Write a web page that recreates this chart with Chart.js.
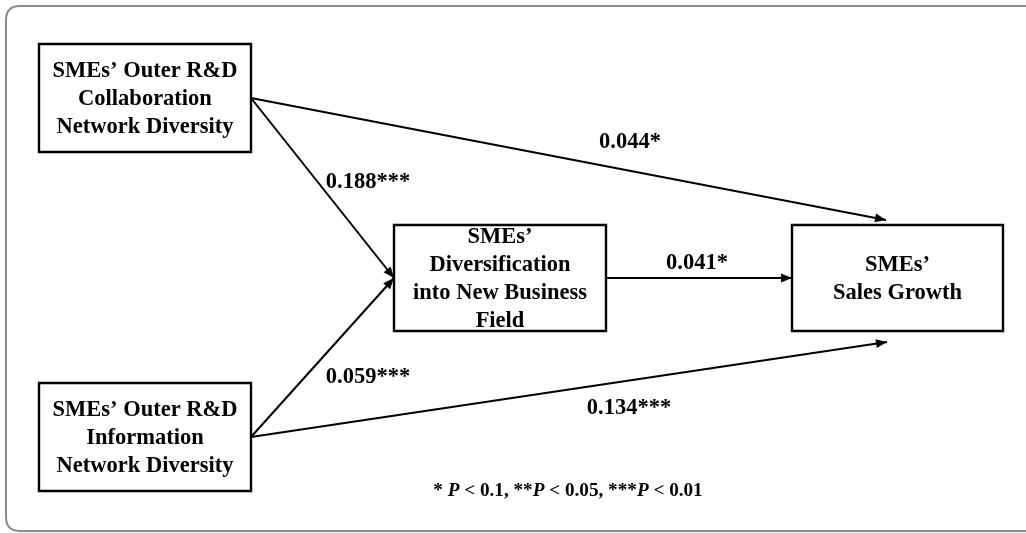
<!DOCTYPE html>
<html>
<head>
<meta charset="utf-8">
<script src="https://cdn.jsdelivr.net/npm/chart.js@4"></script>
<style>
html,body{margin:0;padding:0;background:#fff;}
#wrap{width:1026px;height:533px;position:relative;}
</style>
</head>
<body>
<div id="wrap"><canvas id="c" width="1026" height="533"></canvas></div>
<script>
// ---- Data ----
const nodeNames = ['collab', 'info', 'divers', 'sales'];
const nodeLabels = [
  ['SMEs\u2019 Outer R&D', 'Collaboration', 'Network Diversity'],
  ['SMEs\u2019 Outer R&D', 'Information', 'Network Diversity'],
  ['SMEs\u2019', 'Diversification', 'into New Business', 'Field'],
  ['SMEs\u2019', 'Sales Growth']
];
const pathFrom = [0, 1, 2, 0, 1];
const pathTo = [2, 2, 3, 3, 3];
const pathCoef = [0.188, 0.059, 0.041, 0.044, 0.134];
const pathStars = [3, 3, 1, 1, 3];
const footnoteStars = ['*', '**', '***'];
const footnoteP = ['0.1', '0.05', '0.01'];

// ---- Layout (pixel-unit scales) ----
const boxLeft = [39, 39, 394, 792];
const boxRight = [251, 251, 606, 1003];
const boxTop = [44, 383, 225, 225];
const boxBottom = [152, 491, 331, 331];
const pathStart = [[251, 98], [251, 437], [606, 278], [251, 98], [251, 437]];
const pathEnd = [[394, 278], [394, 278], [792, 278], [886, 220], [887, 342]];
const labelPos = [[368, 182], [368, 377], [697, 263], [630, 142], [629, 408]];

const SERIF = '"Liberation Serif", "Times New Roman", serif';

const datasets = [];
// boxes as closed polygons
nodeNames.forEach((n, i) => {
  datasets.push({
    label: 'box-' + n,
    type: 'line',
    data: [
      {x: boxLeft[i], y: boxTop[i]}, {x: boxRight[i], y: boxTop[i]},
      {x: boxRight[i], y: boxBottom[i]}, {x: boxLeft[i], y: boxBottom[i]},
      {x: boxLeft[i], y: boxTop[i]}, {x: boxRight[i], y: boxTop[i]}
    ],
    borderColor: '#000', borderWidth: 2.4, pointRadius: 0, tension: 0,
    borderJoinStyle: 'miter', borderCapStyle: 'butt',
    fill: false, isBox: true, nodeIndex: i
  });
});
// paths
pathCoef.forEach((c, i) => {
  datasets.push({
    label: 'path-' + i,
    type: 'line',
    data: [{x: pathStart[i][0], y: pathStart[i][1]}, {x: pathEnd[i][0], y: pathEnd[i][1]}],
    borderColor: '#000', borderWidth: 2, pointRadius: 0, tension: 0,
    fill: false, isPath: true, pathIndex: i
  });
});

const diagramPlugin = {
  id: 'diagram',
  beforeDraw(chart) {
    const ctx = chart.ctx;
    ctx.save();
    ctx.fillStyle = '#fff';
    ctx.fillRect(0, 0, chart.width, chart.height);
    // outer rounded frame
    const xs = chart.scales.x, ys = chart.scales.y;
    const l = xs.getPixelForValue(6), t = ys.getPixelForValue(6);
    const r = xs.getPixelForValue(1040), b = ys.getPixelForValue(531);
    const rad = 14;
    ctx.strokeStyle = '#8c8c8c';
    ctx.lineWidth = 2;
    ctx.beginPath();
    ctx.moveTo(l + rad, t);
    ctx.lineTo(r - rad, t);
    ctx.quadraticCurveTo(r, t, r, t + rad);
    ctx.lineTo(r, b - rad);
    ctx.quadraticCurveTo(r, b, r - rad, b);
    ctx.lineTo(l + rad, b);
    ctx.quadraticCurveTo(l, b, l, b - rad);
    ctx.lineTo(l, t + rad);
    ctx.quadraticCurveTo(l, t, l + rad, t);
    ctx.stroke();
    ctx.restore();
  },
  afterDatasetsDraw(chart) {
    const ctx = chart.ctx;
    const xs = chart.scales.x, ys = chart.scales.y;
    ctx.save();
    // arrow heads
    chart.data.datasets.forEach((ds, di) => {
      if (!ds.isPath) return;
      const pts = chart.getDatasetMeta(di).data;
      const p0 = pts[0], p1 = pts[1];
      const ang = Math.atan2(p1.y - p0.y, p1.x - p0.x);
      const len = 11, hw = 4.5;
      ctx.fillStyle = '#000';
      ctx.beginPath();
      ctx.moveTo(p1.x, p1.y);
      ctx.lineTo(p1.x - len * Math.cos(ang) + hw * Math.sin(ang), p1.y - len * Math.sin(ang) - hw * Math.cos(ang));
      ctx.lineTo(p1.x - len * Math.cos(ang) - hw * Math.sin(ang), p1.y - len * Math.sin(ang) + hw * Math.cos(ang));
      ctx.closePath();
      ctx.fill();
    });
    // node texts
    ctx.fillStyle = '#000';
    ctx.textAlign = 'center';
    ctx.textBaseline = 'middle';
    ctx.font = 'bold 22.5px ' + SERIF;
    const lh = 28;
    nodeLabels.forEach((lines, i) => {
      const cx = xs.getPixelForValue((boxLeft[i] + boxRight[i]) / 2);
      const cy = ys.getPixelForValue((boxTop[i] + boxBottom[i]) / 2);
      const y0 = cy - (lines.length - 1) * lh / 2;
      lines.forEach((s, k) => ctx.fillText(s, cx, y0 + k * lh + 1));
    });
    // coefficient labels
    pathCoef.forEach((c, i) => {
      const s = c.toFixed(3) + '*'.repeat(pathStars[i]);
      ctx.fillText(s, xs.getPixelForValue(labelPos[i][0]), ys.getPixelForValue(labelPos[i][1]));
    });
    // footnote with italic P
    const parts = [];
    footnoteStars.forEach((st, i) => {
      if (i > 0) parts.push({t: ', ', it: false});
      parts.push({t: st + (i === 0 ? ' ' : ''), it: false});
      parts.push({t: 'P', it: true});
      parts.push({t: ' < ' + footnoteP[i], it: false});
    });
    const fs = 19.2;
    const fN = 'bold ' + fs + 'px ' + SERIF, fI = 'italic bold ' + fs + 'px ' + SERIF;
    let total = 0;
    parts.forEach(p => { ctx.font = p.it ? fI : fN; p.w = ctx.measureText(p.t).width; total += p.w; });
    let x = xs.getPixelForValue(568) - total / 2;
    const fy = ys.getPixelForValue(491);
    ctx.textAlign = 'left';
    parts.forEach(p => { ctx.font = p.it ? fI : fN; ctx.fillText(p.t, x, fy); x += p.w; });
    ctx.restore();
  }
};

new Chart(document.getElementById('c'), {
  type: 'scatter',
  data: {datasets},
  options: {
    responsive: false,
    devicePixelRatio: 1,
    animation: false,
    layout: {padding: 0},
    plugins: {legend: {display: false}, tooltip: {enabled: false}},
    scales: {
      x: {type: 'linear', min: 0, max: 1026, display: false},
      y: {type: 'linear', min: 0, max: 533, reverse: true, display: false}
    },
    elements: {line: {borderCapStyle: 'butt'}}
  },
  plugins: [diagramPlugin]
});
</script>
</body>
</html>
